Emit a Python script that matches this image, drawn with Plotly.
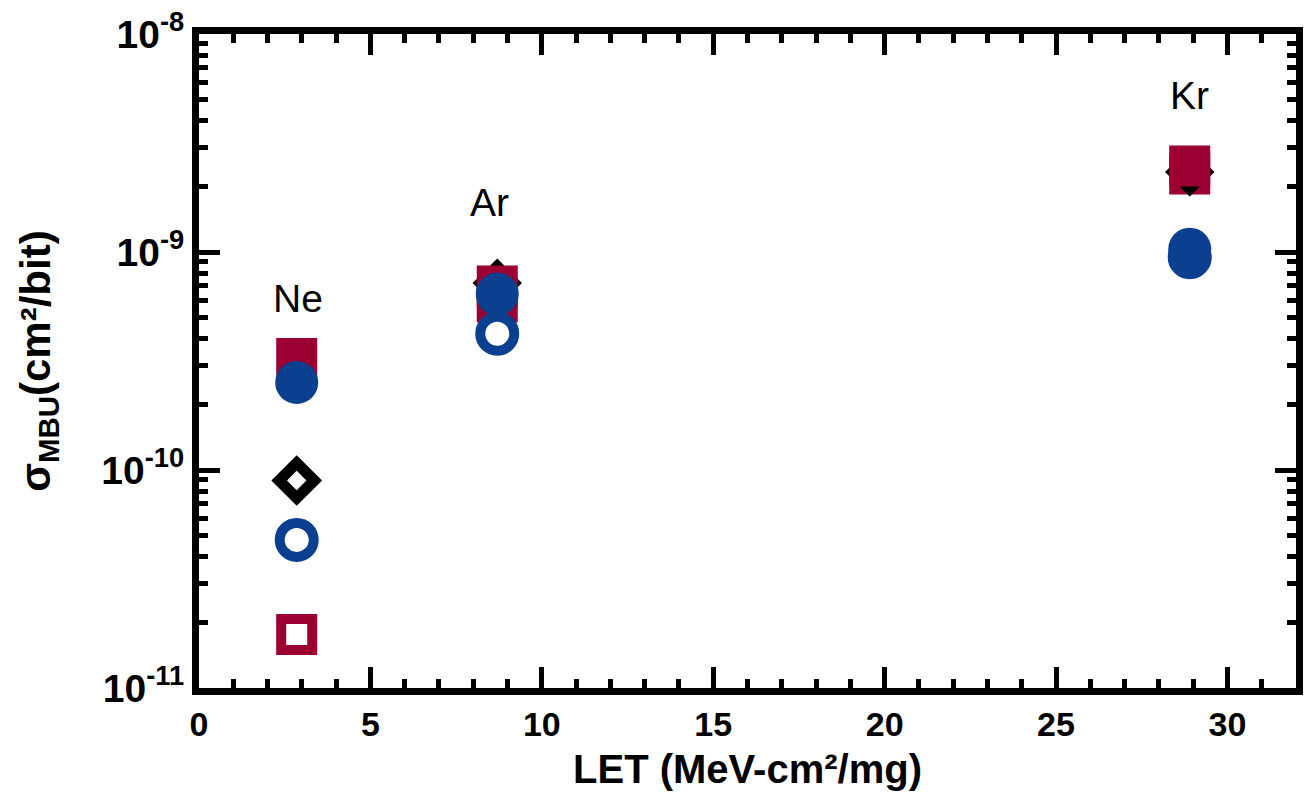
import plotly.graph_objects as go

# ---- data ----
ions = ["Ne", "Ar", "Kr"]
let_vals = [2.85, 8.7, 28.9]

open_square = [1.76e-11, 5.9e-10, 2.28e-9]
open_diamond = [8.95e-11, None, None]
filled_diamond = [None, 7.2e-10, 2.33e-9]
filled_square = [3.25e-10, 6.98e-10, 2.48e-9]
open_circle = [4.78e-11, 4.22e-10, 9.46e-10]
filled_circle = [2.52e-10, 6.41e-10, 1.03e-9]

label_x = [2.9, 8.48, 28.9]
label_logy = [-9.215, -8.775, -8.28]

y_tickvals = [1e-11, 1e-10, 1e-9, 1e-8]
y_ticktext = ["10<sup>-11</sup>", "10<sup>-10</sup>", "10<sup>-9</sup>", "10<sup>-8</sup>"]
x_tickvals = [0, 5, 10, 15, 20, 25, 30]

CRIMSON = "#9C0033"
BLUE = "#0B3F8F"

fig = go.Figure()

def add(yvals, symbol, size, color, fill, lw):
    fig.add_trace(go.Scatter(
        x=let_vals, y=yvals, mode="markers",
        marker=dict(symbol=symbol, size=size, color=fill,
                    line=dict(color=color, width=lw)),
        showlegend=False, hoverinfo="skip"))

add(open_square, "square", 31, CRIMSON, "white", 10)
add(open_diamond, "diamond", 27, "black", "white", 11)
add(filled_diamond, "diamond", 38, "black", "black", 0)
add(filled_square, "square", 41, CRIMSON, CRIMSON, 0)
add(open_circle, "circle", 34, BLUE, "white", 10)
add(filled_circle, "circle", 43, BLUE, BLUE, 0)

for name, lx, ly in zip(ions, label_x, label_logy):
    fig.add_annotation(x=lx, y=ly, xref="x", yref="y", text=name, showarrow=False,
                       font=dict(family="Liberation Sans", size=39, color="black"))

axis_common = dict(showline=True, linewidth=7, linecolor="black", mirror="ticks",
                   ticks="inside", tickwidth=5, tickcolor="black", ticklen=21,
                   showgrid=False, zeroline=False)

fig.update_xaxes(range=[0, 32], tickvals=x_tickvals,
                 tickfont=dict(family="Liberation Sans", size=34, color="black", weight="bold"),
                 minor=dict(ticks="inside", ticklen=9, tickwidth=5, tickcolor="black", dtick=1, showgrid=False),
                 title=dict(text="LET (MeV-cm²/mg)", standoff=16,
                            font=dict(family="Liberation Sans", size=40, color="black", weight="bold")),
                 **axis_common)
fig.update_yaxes(type="log", range=[-11, -8], tickvals=y_tickvals, ticktext=y_ticktext,
                 tickfont=dict(family="Liberation Sans", size=39, color="black", weight="bold"),
                 minor=dict(ticks="inside", ticklen=9, tickwidth=5, tickcolor="black", dtick="D1", showgrid=False),
                 title=dict(text="σ<sub>MBU</sub>(cm²/bit)", standoff=40,
                            font=dict(family="Liberation Sans", size=42, color="black", weight="bold")),
                 **axis_common)

fig.update_layout(width=1308, height=794, paper_bgcolor="white", plot_bgcolor="white",
                  margin=dict(l=199, r=12, t=34, b=106, autoexpand=False))

fig.write_html("out.html")
